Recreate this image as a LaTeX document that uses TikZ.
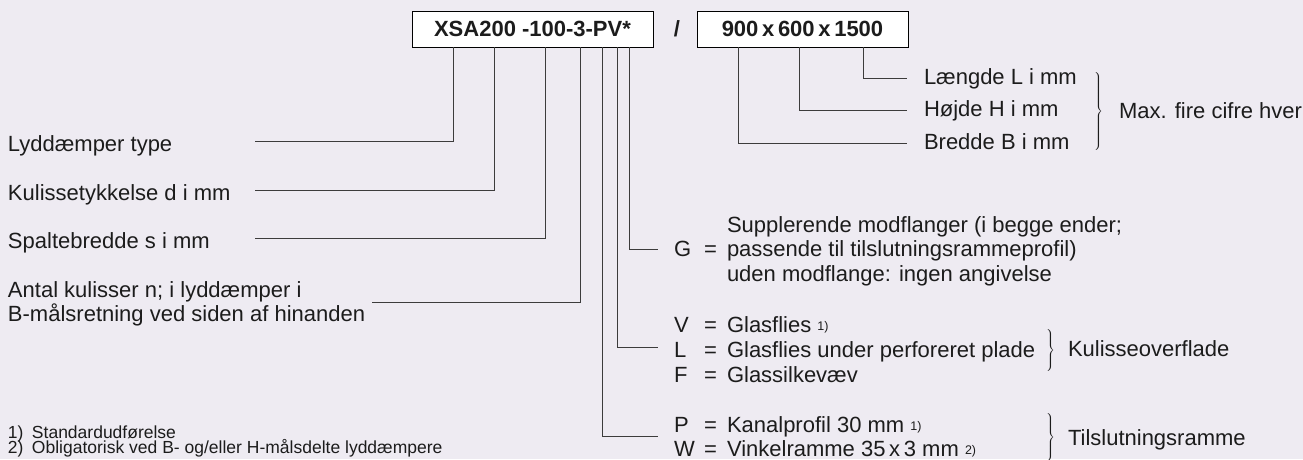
\documentclass[tikz,border=0pt]{standalone}
\usepackage{fontspec}
\setmainfont{Liberation Sans}
\usepackage{amsmath}
\usepackage{tikz}
\usetikzlibrary{matrix, positioning}

\definecolor{paper}{RGB}{238,235,242}
\definecolor{ink}{RGB}{28,28,28}
\definecolor{leadink}{RGB}{60,60,60}

\newcommand{\labelfont}{\fontsize{22}{25}\selectfont}
\newcommand{\notefont}{\fontsize{17.5}{15.5}\selectfont}
\newcommand{\fnref}[1]{\raisebox{2pt}{\fontsize{12.5}{13}\selectfont #1}}
\newcommand{\bracefor}[1]{\fontsize{10}{12}\selectfont$\left.\vcenter{\hrule height #1 width 0pt}\right\}$}

\begin{document}
\begin{tikzpicture}[x=1pt, y=-1pt,
  every node/.style={anchor=center, inner sep=0pt, outer sep=0pt, font=\labelfont, text=ink},
  every right delimiter/.style={xshift=16pt, font=\fontsize{10}{12}\selectfont},
  txt/.style={anchor=base west},
  leader/.style={draw=leadink, line width=0.9pt},
  codebox/.style={draw=black, fill=white, line width=0.8pt, minimum height=36pt, font=\labelfont\bfseries}]

\fill[paper] (0,0) rectangle (1303,459);
\useasboundingbox (0,0) rectangle (1303,459);

\node[codebox, minimum width=241pt] (type) at (532.5,29) {XSA200 -100-3-PV*};
\node[font=\labelfont\bfseries] (slash) at (677,29) {/};
\node[codebox, minimum width=211pt] (dims) at (802.5,29) {900\,x\,600\,x\,1500};

% left side
\node[txt] (lyd) at (8,151) {Lyddæmper type};
\node[txt] (kul) at (8,200) {Kulissetykkelse d i mm};
\node[txt] (spa) at (8,248) {Spaltebredde s i mm};
\node[anchor=west, align=left, font=\fontsize{22}{23.5}\selectfont] (ant) at (8,304) {Antal kulisser n; i lyddæmper i\\B-målsretning ved siden af hinanden};

\node[txt, font=\notefont] (fn1) at (8,438) {\makebox[24pt][l]{1)}Standardudførelse};
\node[txt, font=\notefont] (fn2) at (8,453.5) {\makebox[24pt][l]{2)}Obligatorisk ved B- og/eller H-målsdelte lyddæmpere};

% dimensions
\matrix (sizes) [matrix of nodes, anchor=north west, row sep=15.5pt, right delimiter=\},
  nodes={anchor=base west, text height=14pt, text depth=3pt}] at (924,70) {
Længde L i mm \\
Højde H i mm \\
Bredde B i mm \\
};
\node[txt] (maxnote) at (1119,118) {Max. fire cifre hver};

% option keys
\foreach \k/\y in {G/256.5, V/332, L/357, F/382, P/432.5, W/456.5} {
  \node[txt] (key-\k) at (674,\y) {\k};
  \node[txt] (eq-\k) at (704,\y) {=};
}

\node[txt] (g-top) at (727,232) {Supplerende modflanger (i begge ender;};
\node[txt] (g-mid) at (727,256.5) {passende til tilslutningsrammeprofil)};
\node[txt] (g-bot) at (727,281) {uden modflange: ingen angivelse};

\node[txt] (v-txt) at (727,332) {Glasflies \fnref{1)}};
\node[txt] (l-txt) at (727,357) {Glasflies under perforeret plade};
\node[txt] (f-txt) at (727,382) {Glassilkevæv};
\node (surfbrace) at (1050,350) {\bracefor{44pt}};
\node[txt] (surf) at (1068,356) {Kulisseoverflade};

\node[txt] (p-txt) at (727,432.5) {Kanalprofil 30 mm \fnref{1)}};
\node[txt] (w-txt) at (727,456.5) {Vinkelramme 35\,x\,3 mm \fnref{2)}};
\node (framebrace) at (1050,437) {\bracefor{48pt}};
\node[txt] (frame) at (1068,445) {Tilslutningsramme};

% line ends
\coordinate (lyd-end) at (255,141);
\coordinate (kul-end) at (255,190);
\coordinate (spa-end) at (255,238);
\coordinate (ant-end) at (372,302);
\coordinate (g-end) at (658,249);
\coordinate (l-end) at (658,347);
\coordinate (pw-end) at (658,436);
\coordinate (len-end) at (907,78);
\coordinate (hoj-end) at (907,110);
\coordinate (bre-end) at (907,143);

% leader lines
\foreach \dx/\pt in {41/lyd-end, 82/kul-end, 133/spa-end, 168/ant-end, 190/pw-end, 205/l-end, 217/g-end}
  \draw[leader] ([xshift=\dx]type.south west) |- (\pt);
\foreach \dx/\pt in {41/bre-end, 102/hoj-end, 166/len-end}
  \draw[leader] ([xshift=\dx]dims.south west) |- (\pt);

\end{tikzpicture}
\end{document}
